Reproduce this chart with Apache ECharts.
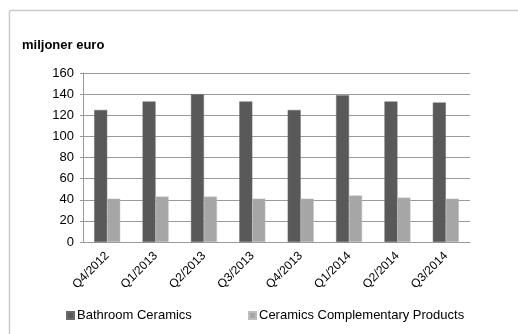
<!DOCTYPE html>
<html>
<head>
<meta charset="utf-8">
<script src="https://cdn.jsdelivr.net/npm/echarts@6/dist/echarts.min.js"></script>
<style>
  html, body { margin: 0; padding: 0; background: #fff; }
  #chart { width: 518px; height: 334px; }
</style>
</head>
<body>
<div id="chart"></div>
<script>
// Quarterly revenue by segment, million euro
const quarters = ['Q4/2012', 'Q1/2013', 'Q2/2013', 'Q3/2013', 'Q4/2013', 'Q1/2014', 'Q2/2014', 'Q3/2014'];
const bathroomCeramics = [125, 133, 140, 133, 125, 139, 133, 132];
const complementaryProducts = [41, 43, 43, 41, 41, 44, 42, 41];
const yTicks = [0, 20, 40, 60, 80, 100, 120, 140, 160];

const font = 'Liberation Sans, Arial, sans-serif';
const chart = echarts.init(document.getElementById('chart'));

chart.setOption({
  animation: false,
  backgroundColor: '#fff',
  graphic: [
    // frame lines along the top and left edges
    { type: 'line', shape: { x1: 9.5, y1: 10.5, x2: 518, y2: 10.5 }, style: { stroke: '#c5cbd5', lineWidth: 1.5 } },
    { type: 'line', shape: { x1: 9.5, y1: 10.5, x2: 9.5, y2: 334 }, style: { stroke: '#c5cbd5', lineWidth: 1.5 } },
    { type: 'text', left: 22, top: 39, style: { text: 'miljoner euro', font: 'bold 13px ' + font, fill: '#000' } }
  ],
  grid: { left: 83, right: 48, top: 73, bottom: 92 },
  legend: [
    {
      data: ['Bathroom Ceramics'], left: 61, top: 304,
      itemWidth: 7, itemHeight: 7, itemGap: 3, icon: 'rect',
      textStyle: { fontFamily: font, fontSize: 13, color: '#000', padding: [0, 0, 0, -2] }
    },
    {
      data: ['Ceramics Complementary Products'], left: 243, top: 304,
      itemWidth: 7, itemHeight: 7, icon: 'rect',
      textStyle: { fontFamily: font, fontSize: 13, color: '#000', padding: [0, 0, 0, -2] }
    }
  ],
  xAxis: {
    type: 'category',
    data: quarters,
    axisLine: { lineStyle: { color: '#9a9a9a', width: 1 } },
    axisTick: { show: false },
    axisLabel: { rotate: 45, fontFamily: font, fontSize: 12, color: '#000', margin: 12 }
  },
  yAxis: {
    type: 'value',
    min: yTicks[0],
    max: yTicks[yTicks.length - 1],
    interval: yTicks[1] - yTicks[0],
    axisLine: { show: true, lineStyle: { color: '#9a9a9a' } },
    axisTick: { show: true, length: 3, lineStyle: { color: '#9a9a9a' } },
    axisLabel: { fontFamily: font, fontSize: 13, color: '#000', margin: 9 },
    splitLine: { lineStyle: { color: '#9a9a9a', width: 1 } }
  },
  series: [
    {
      name: 'Bathroom Ceramics', type: 'bar', data: bathroomCeramics,
      barWidth: 13, barGap: '0%',
      itemStyle: { color: '#595959', borderColor: '#6a6a6a', borderWidth: 0.5 }
    },
    {
      name: 'Ceramics Complementary Products', type: 'bar', data: complementaryProducts,
      barWidth: 13,
      itemStyle: { color: '#a6a6a6', borderColor: '#bdbdbd', borderWidth: 0.5 }
    }
  ]
});
</script>
</body>
</html>
